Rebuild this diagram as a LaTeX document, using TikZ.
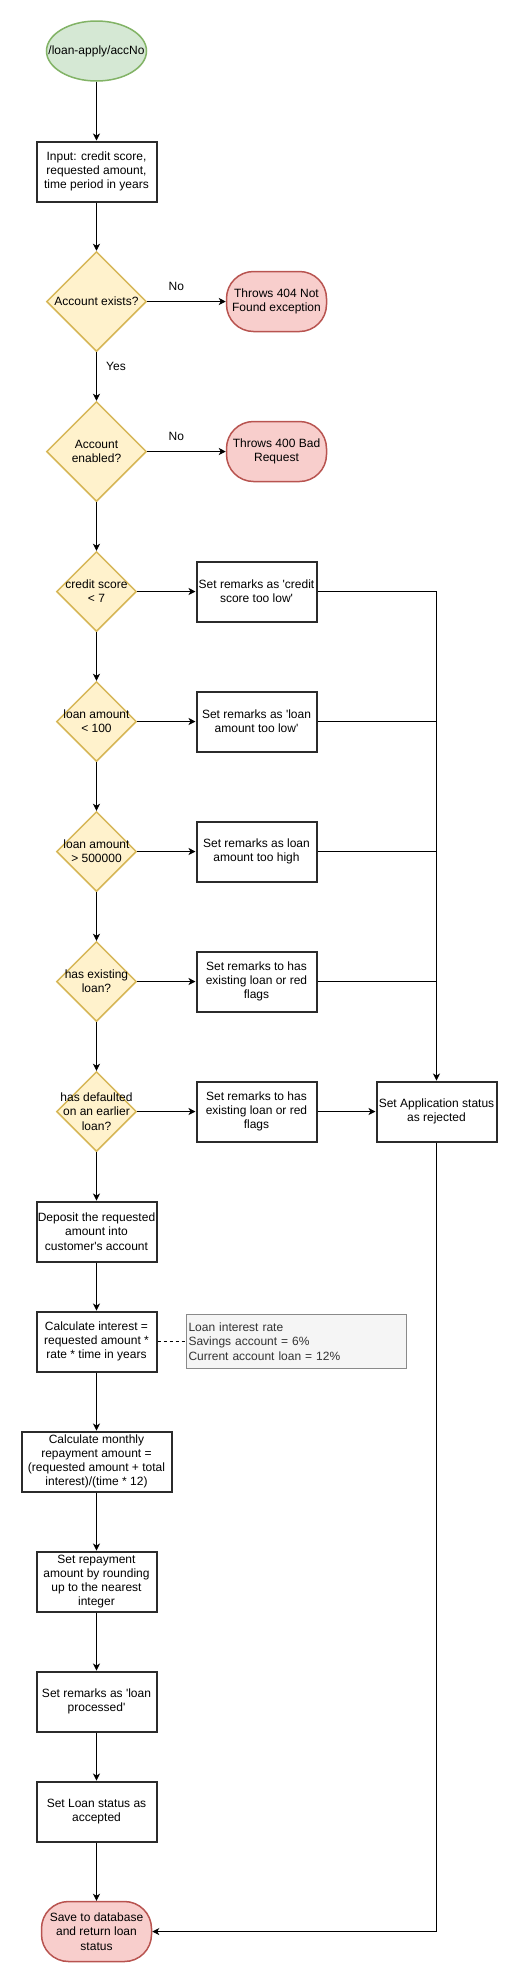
\documentclass[tikz,border=0pt]{standalone}
\usepackage{fontspec}
\newfontfamily\flowfont{Liberation Sans}
\usetikzlibrary{shapes.geometric,arrows.meta}
\definecolor{startfill}{HTML}{D5E8D4}
\definecolor{startline}{HTML}{82B366}
\definecolor{decfill}{HTML}{FFF2CC}
\definecolor{decline}{HTML}{D6B656}
\definecolor{stopfill}{HTML}{F8CECC}
\definecolor{stopline}{HTML}{B85450}
\definecolor{boxline}{HTML}{2B2B2B}
\definecolor{notefill}{HTML}{F5F5F5}
\definecolor{noteline}{HTML}{8A8A8A}
\definecolor{notetext}{HTML}{333333}
\begin{document}
\begin{tikzpicture}[x=1pt, y=-1pt,
    every node/.style={font=\flowfont\fontsize{12}{14.2}\selectfont, align=center},
    startnode/.style={ellipse, draw=startline, fill=startfill, line width=1.5pt, minimum width=100pt, minimum height=60pt, inner sep=0pt},
    process/.style={rectangle, draw=boxline, fill=white, line width=2pt, minimum width=120pt, minimum height=60pt, inner sep=1pt},
    decision/.style={diamond, draw=decline, fill=decfill, line width=1.5pt, minimum width=#1, minimum height=#1, inner sep=0pt},
    decision/.default=80pt,
    stopnode/.style={rectangle, rounded corners=27pt, draw=stopline, fill=stopfill, line width=1.5pt, minimum width=100pt, minimum height=60pt, inner sep=0pt},
    note/.style={rectangle, draw=noteline, fill=notefill, text=notetext, line width=1pt, text width=216pt, minimum height=54pt, align=left, inner sep=2pt},
    flow/.style={-{Stealth[length=7pt, width=7pt, inset=2pt]}, line width=0.9pt}]
    \useasboundingbox (0, 0) rectangle (517, 1982);

    \node[startnode, label={center:{/loan-apply/accNo}}] (start) at (96.5, 51) {};
    \node[process] (input) at (96.5, 171.5) {Input: credit score,\\requested amount,\\time period in years};
    \node[decision=100pt, label={center:{Account exists?}}] (exists) at (96.5, 301.5) {};
    \node[stopnode] (notfound) at (276.5, 301.5) {Throws 404 Not\\Found exception};
    \node[decision=100pt, label={center:{Account\\enabled?}}] (enabled) at (96.5, 451.5) {};
    \node[stopnode] (badreq) at (276.5, 451.5) {Throws 400 Bad\\Request};

    \node[decision, label={center:{credit score\\< 7}}] (credit) at (96.5, 591.5) {};
    \node[process] (rcredit) at (256.5, 591.5) {Set remarks as 'credit\\score too low'};
    \node[decision, label={center:{loan amount\\< 100}}] (low) at (96.5, 721.5) {};
    \node[process] (rlow) at (256.5, 721.5) {Set remarks as 'loan\\amount too low'};
    \node[decision, label={center:{loan amount\\> 500000}}] (high) at (96.5, 851.5) {};
    \node[process] (rhigh) at (256.5, 851.5) {Set remarks as loan\\amount too high};
    \node[decision, label={center:{has existing\\loan?}}] (existing) at (96.5, 981.5) {};
    \node[process] (rexisting) at (256.5, 981.5) {Set remarks to has\\existing loan or red\\flags};
    \node[decision, label={center:{has defaulted\\on an earlier\\loan?}}] (defaulted) at (96.5, 1111.5) {};
    \node[process] (rdefaulted) at (256.5, 1111.5) {Set remarks to has\\existing loan or red\\flags};
    \node[process] (rejected) at (436.5, 1111.5) {Set Application status\\as rejected};

    \node[process] (deposit) at (96.5, 1231.5) {Deposit the requested\\amount into\\customer's account};
    \node[process] (interest) at (96.5, 1341.5) {Calculate interest =\\requested amount *\\rate * time in years};
    \node[note] (rates) at (296.5, 1341.5) {Loan interest rate\\Savings account = 6\%\\Current account loan = 12\%};
    \node[process, minimum width=150pt] (monthly) at (96.5, 1461.5) {Calculate monthly\\repayment amount =\\(requested amount + total\\interest)/(time * 12)};
    \node[process] (repay) at (96.5, 1581.5) {Set repayment\\amount by rounding\\up to the nearest\\integer};
    \node[process] (processed) at (96.5, 1701.5) {Set remarks as 'loan\\processed'};
    \node[process] (accepted) at (96.5, 1811.5) {Set Loan status as\\accepted};
    \node[stopnode, minimum width=110pt] (save) at (96.5, 1931.5) {Save to database\\and return loan\\status};

    \draw[flow] (start) -- (input);
    \draw[flow] (input) -- (exists);
    \draw[flow] (exists) -- node[pos=0.37, yshift=15.5pt] {No} (notfound);
    \draw[flow] (exists) -- node[pos=0.29, xshift=19.5pt] {Yes} (enabled);
    \draw[flow] (enabled) -- node[pos=0.37, yshift=15.5pt] {No} (badreq);
    \draw[flow] (enabled) -- (credit);
    \draw[flow] (credit) -- (low);
    \draw[flow] (low) -- (high);
    \draw[flow] (high) -- (existing);
    \draw[flow] (existing) -- (defaulted);
    \draw[flow] (defaulted) -- (deposit);
    \draw[flow] (credit) -- (rcredit);
    \draw[flow] (low) -- (rlow);
    \draw[flow] (high) -- (rhigh);
    \draw[flow] (existing) -- (rexisting);
    \draw[flow] (defaulted) -- (rdefaulted);
    \draw[flow] (rcredit) -| (rejected);
    \draw[line width=0.9pt] (rlow) -- (rlow -| rejected);
    \draw[line width=0.9pt] (rhigh) -- (rhigh -| rejected);
    \draw[line width=0.9pt] (rexisting) -- (rexisting -| rejected);
    \draw[flow] (rdefaulted) -- (rejected);
    \draw[flow] (rejected) |- (save);
    \draw[flow] (deposit) -- (interest);
    \draw[line width=0.9pt, dash pattern=on 3pt off 3pt] (interest) -- (rates);
    \draw[flow] (interest) -- (monthly);
    \draw[flow] (monthly) -- (repay);
    \draw[flow] (repay) -- (processed);
    \draw[flow] (processed) -- (accepted);
    \draw[flow] (accepted) -- (save);
\end{tikzpicture}
\end{document}
